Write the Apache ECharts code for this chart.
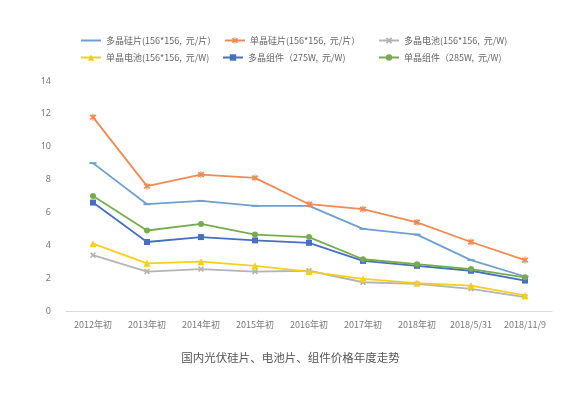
<!DOCTYPE html>
<html><head><meta charset="utf-8">
<script src="https://cdn.jsdelivr.net/npm/echarts@6/dist/echarts.min.js"></script>
<style>html,body{margin:0;padding:0;background:#fff}#c{width:581px;height:395px}</style>
</head><body><div id="c"></div>
<script>
const categories = ['2012年初','2013年初','2014年初','2015年初','2016年初','2017年初','2018年初','2018/5/31','2018/11/9'];
const seriesNames = ['多晶硅片(156*156,  元/片）','单晶硅片(156*156,  元/片）','多晶电池(156*156,  元/W)','单晶电池(156*156,  元/W)','多晶组件（275W,  元/W)','单晶组件（285W,  元/W)'];
const multiWafer = [9.0, 6.5, 6.7, 6.4, 6.4, 5.0, 4.65, 3.1, 2.1];
const monoWafer = [11.8, 7.6, 8.3, 8.1, 6.5, 6.2, 5.4, 4.2, 3.1];
const multiCell = [3.4, 2.4, 2.55, 2.4, 2.45, 1.75, 1.65, 1.35, 0.85];
const monoCell = [4.1, 2.9, 3.0, 2.75, 2.4, 1.95, 1.7, 1.55, 0.95];
const multiModule = [6.6, 4.2, 4.5, 4.3, 4.15, 3.05, 2.75, 2.45, 1.85];
const monoModule = [7.0, 4.9, 5.3, 4.65, 4.5, 3.15, 2.85, 2.55, 2.05];
const yTicks = {min: 0, max: 14, interval: 2};

const colors = ['#6f9fce', '#ee8a55', '#b4b4b4', '#f6cf1c', '#4670bf', '#78ab4f'];
const xPath = 'path://M2,0L5,3L8,0L10,2L7,5L10,8L8,10L5,7L2,10L0,8L3,5L0,2Z';
const starPath = 'path://M2,0L5,3L8,0L10,2L7,5L10,8L8,10L5,7L2,10L0,8L3,5L0,2Z M4.3,-1L5.7,-1L5.7,11L4.3,11Z';
const symbols = ['path://M0,0L10,0L10,2L0,2Z', starPath, xPath, 'triangle', 'rect', 'circle'];
const sizes = [[7,2], 7, 6, 7, 6, 6];
const datas = [multiWafer, monoWafer, multiCell, monoCell, multiModule, monoModule];

const legendPos = [[80,36],[224,36],[378,36],[80,53],[222,53],[378,53]];
const legends = seriesNames.map((n,i)=>{
  const lg = {
    data:[n], left: legendPos[i][0], top: legendPos[i][1], itemWidth: 20, itemHeight: 8, itemGap: 4,
    textStyle:{fontFamily:'Noto Sans CJK SC', fontSize:9, color:'#666'}, padding:0
  };
  if (i === 0) lg.itemStyle = {opacity: 0};
  return lg;
});

const chart = echarts.init(document.getElementById('c'), null, {renderer:'canvas'});
chart.setOption({
  animation:false,
  color: colors,
  title:{text:'国内光伏硅片、电池片、组件价格年度走势', left:'center', top:347,
    textStyle:{fontFamily:'Noto Sans CJK SC', fontSize:11.5, fontWeight:'normal', color:'#555'}},
  legend: legends,
  grid:{left:66, right:29, top:81, bottom:84},
  xAxis:{type:'category', data:categories, boundaryGap:true,
    axisLine:{lineStyle:{color:'#d9d9d9'}}, axisTick:{show:false},
    axisLabel:{fontFamily:'Noto Sans CJK SC', fontSize:9, color:'#777', margin:9, interval:0}},
  yAxis:{type:'value', min:yTicks.min, max:yTicks.max, interval:yTicks.interval,
    axisLine:{show:false}, axisTick:{show:false}, splitLine:{show:false},
    axisLabel:{fontFamily:'Noto Sans', fontSize:9, color:'#777', margin:15}},
  series: seriesNames.map((n,i)=>({
    name:n, type:'line', data:datas[i], symbol:symbols[i], symbolSize:sizes[i],
    showAllSymbol:true, lineStyle:{width:1.8, color:colors[i]},
    itemStyle:{color:colors[i]}
  }))
});
</script></body></html>
